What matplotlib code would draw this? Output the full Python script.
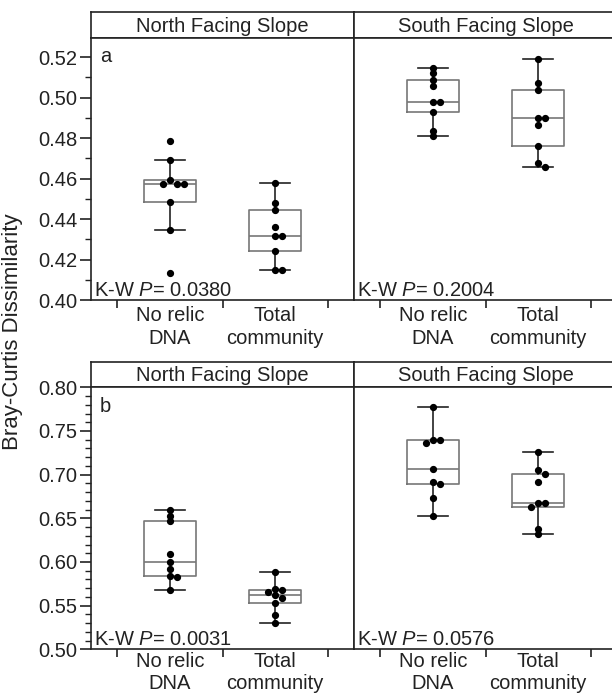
import matplotlib
matplotlib.use("Agg")
import matplotlib.pyplot as plt
from matplotlib.ticker import MultipleLocator
import numpy as np

plt.rcParams['font.family'] = ['Liberation Sans', 'DejaVu Sans']
plt.rcParams['mathtext.fontset'] = 'custom'
plt.rcParams['mathtext.rm'] = 'Liberation Sans'
plt.rcParams['mathtext.it'] = 'Liberation Sans:italic'

# ── data ─────────────────────────────────────────────────────────────────────
categories = ["No relic\nDNA", "Total\ncommunity"]
slopes = ["North Facing Slope", "South Facing Slope"]

# panel a
a_north_norelic = [0.4788, 0.4691, 0.4594, 0.4574, 0.4574, 0.4574, 0.4486, 0.4346, 0.4132]
a_north_total = [0.4577, 0.4480, 0.4445, 0.4363, 0.4317, 0.4317, 0.4244, 0.4148, 0.4148]
a_south_norelic = [0.5146, 0.5121, 0.5088, 0.5060, 0.4981, 0.4981, 0.4931, 0.4833, 0.4811]
a_south_total = [0.5192, 0.5072, 0.5039, 0.4898, 0.4898, 0.4865, 0.4762, 0.4676, 0.4656]
a_pvals = ["0.0380", "0.2004"]

# panel b
b_north_norelic = [0.6592, 0.6531, 0.6469, 0.6088, 0.5996, 0.5916, 0.5844, 0.5824, 0.5679]
b_north_total = [0.5882, 0.5687, 0.5680, 0.5653, 0.5625, 0.5591, 0.5527, 0.5393, 0.5298]
b_south_norelic = [0.7771, 0.7397, 0.7397, 0.7366, 0.7061, 0.6920, 0.6893, 0.6737, 0.6527]
b_south_total = [0.7256, 0.7053, 0.7008, 0.6912, 0.6672, 0.6672, 0.6626, 0.6374, 0.6317]
b_pvals = ["0.0031", "0.0576"]

a_yticks = [0.40, 0.42, 0.44, 0.46, 0.48, 0.50, 0.52]
b_yticks = [0.50, 0.55, 0.60, 0.65, 0.70, 0.75, 0.80]

rows = [
    dict(letter="a", groups=[[a_north_norelic, a_north_total], [a_south_norelic, a_south_total]],
         pvals=a_pvals, yticks=a_yticks, ylim=(0.40, 0.5295)),
    dict(letter="b", groups=[[b_north_norelic, b_north_total], [b_south_norelic, b_south_total]],
         pvals=b_pvals, yticks=b_yticks, ylim=(0.50, 0.80)),
]

# ── layout (pixels) ──────────────────────────────────────────────────────────
W, H = 612, 695
FS = 14.5
DARK = '#222222'
GREY = '#777777'


def px_box(x0, y0, x1, y1):
    return [x0 / W, 1 - y1 / H, (x1 - x0) / W, (y1 - y0) / H]


# strip top, axes top, axes bottom, label spacing, label pad
row_px = [(12, 38, 300, 1.3, 4), (361.7, 387.3, 649.3, 1.18, 2)]
col_px = [(91, 354), (354, 617)]


def swarm_offsets(ax, x, vals, diam):
    """Place dots side by side where they would overlap (pixel space)."""
    pts = ax.transData.transform(np.column_stack([np.full(len(vals), x), vals]))
    unit = ax.transData.transform((1, 0))[0] - ax.transData.transform((0, 0))[0]
    step = 1.2 * diam
    cands = [0.0]
    for k in range(1, 6):
        cands += [k * step, -k * step]
    placed, offs = [], np.zeros(len(vals))
    for i in np.argsort(vals)[::-1]:
        px, py = pts[i]
        for o in cands:
            if all((px + o - qx) ** 2 + (py - qy) ** 2 >= (0.75 * diam) ** 2 for qx, qy in placed):
                break
        placed.append((px + o, py))
        offs[i] = o / unit
    return offs


fig = plt.figure(figsize=(W / 100, H / 100), dpi=100)
ms = 4.2
diam = ms * fig.dpi / 72

for r, row in enumerate(rows):
    s_top, a_top, a_bot, lsp, lpad = row_px[r]
    for c, (x0, x1) in enumerate(col_px):
        # strip header
        sax = fig.add_axes(px_box(x0, s_top, x1, a_top))
        sax.set_xticks([])
        sax.set_yticks([])
        for sp in sax.spines.values():
            sp.set_color(DARK)
            sp.set_linewidth(1.2)
        sax.text(0.5, 0.45, slopes[c], ha='center', va='center', fontsize=FS,
                 color=DARK, transform=sax.transAxes)

        ax = fig.add_axes(px_box(x0, a_top, x1, a_bot))
        ax.set_xlim(0.25, 2.75)
        ax.set_ylim(*row['ylim'])

        data = row['groups'][c]
        ax.boxplot(data, positions=[1, 2], widths=0.5, whis=1.5, showfliers=False,
                   manage_ticks=False, capwidths=0.29,
                   boxprops=dict(color=GREY, lw=1.2),
                   medianprops=dict(color=GREY, lw=1.2),
                   whiskerprops=dict(color=DARK, lw=1.2),
                   capprops=dict(color=DARK, lw=1.2))
        for k, vals in enumerate(data):
            xo = swarm_offsets(ax, k + 1, vals, diam)
            ax.plot(k + 1 + xo, vals, 'o', ms=ms, color='black', mec='black', zorder=5)

        for sp in ax.spines.values():
            sp.set_color(DARK)
            sp.set_linewidth(1.2)

        # x axis: ticks at category boundaries, labels at centres
        ax.set_xticks([0.5, 1.5, 2.5])
        ax.set_xticklabels([])
        ax.set_xticks([1, 2], minor=True)
        ax.set_xticklabels(categories, minor=True, fontsize=FS, color=DARK, linespacing=lsp)
        ax.tick_params(axis='x', which='major', direction='out', length=6, width=1.2, color=DARK)
        ax.tick_params(axis='x', which='minor', length=0, pad=lpad)

        if c == 0:
            ax.set_yticks(row['yticks'])
            ax.set_yticklabels([f"{v:.2f}" for v in row['yticks']], fontsize=FS, color=DARK)
            ax.yaxis.set_minor_locator(MultipleLocator(0.01))
            ax.tick_params(axis='y', which='major', direction='out', length=8, width=1.2,
                           color=DARK, pad=2)
            ax.tick_params(axis='y', which='minor', direction='out', length=4, width=1.0,
                           color=DARK)
            ax.text(9 / (x1 - x0), 1 - 19 / (a_bot - a_top), row['letter'], ha='left',
                    va='center', fontsize=FS, color=DARK, transform=ax.transAxes)
        else:
            ax.set_yticks([])
            ax.tick_params(axis='y', which='both', left=False, labelleft=False)

        ax.text(3 / (x1 - x0), 0.0, rf"K-W $\mathit{{P}}$= {row['pvals'][c]}", ha='left',
                va='bottom', fontsize=FS, color=DARK, transform=ax.transAxes)

fig.text(13 / W, 1 - 332 / H, "Bray-Curtis Dissimilarity", rotation=90, ha='center',
         va='center', fontsize=16, color=DARK)

fig.savefig("out.png", dpi=100)
